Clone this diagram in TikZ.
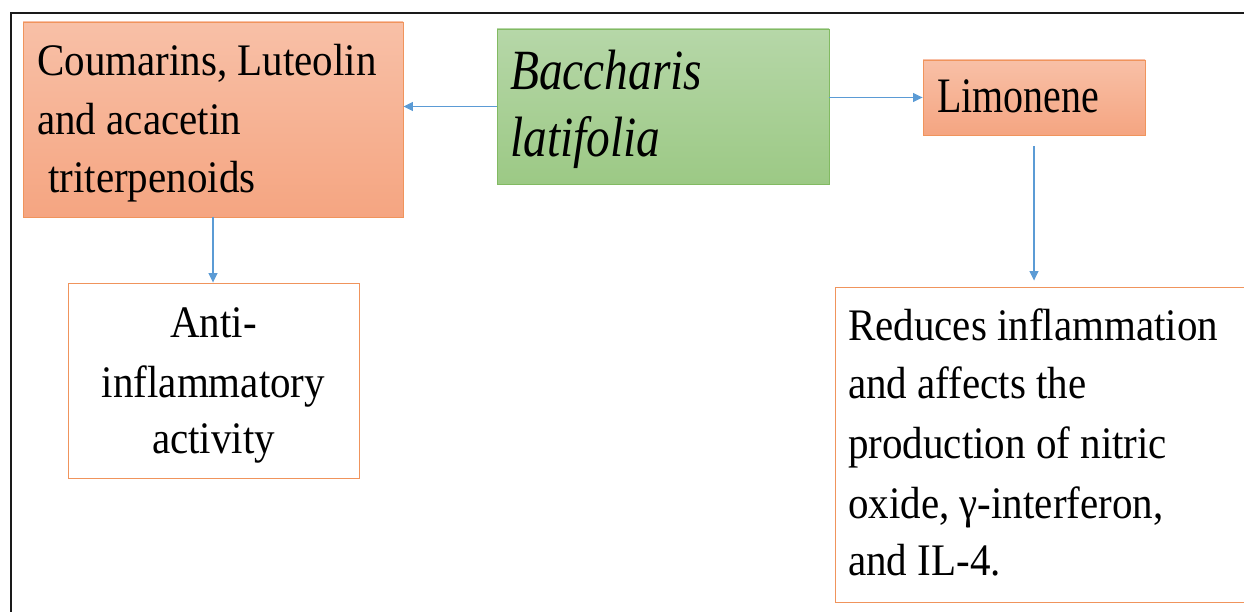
\documentclass[tikz,border=0pt]{standalone}
\usepackage{fontspec}
\setmainfont{Liberation Serif}
\usetikzlibrary{arrows.meta}

\definecolor{orTop}{HTML}{F8C0A7}
\definecolor{orBot}{HTML}{F5A581}
\definecolor{orLine}{HTML}{F0945C}
\definecolor{grTop}{HTML}{B6D7A8}
\definecolor{grBot}{HTML}{9CC985}
\definecolor{grLine}{HTML}{82BA62}
\definecolor{arrBlue}{HTML}{5B9BD5}
\definecolor{frameC}{HTML}{1A1A1A}

% slightly tall lettering
\newcommand{\tallx}[2][1.1]{\scalebox{1}[#1]{#2}}

\tikzset{
  orangebox/.style={draw=orLine, line width=0.9pt, top color=orTop, bottom color=orBot, inner sep=0pt},
  greenbox/.style={draw=grLine, line width=0.9pt, top color=grTop, bottom color=grBot, inner sep=0pt},
  plainbox/.style={draw=orLine, line width=0.9pt, fill=white, inner sep=0pt},
  txt/.style={inner sep=0pt, anchor=base west, font=\fontsize{41}{50}\selectfont},
  ctxt/.style={inner sep=0pt, anchor=base, font=\fontsize{41}{50}\selectfont},
  flow/.style={draw=arrBlue, line width=1.1pt, -{Triangle[length=9.5pt,width=9pt]}},
}

\begin{document}
\begin{tikzpicture}[x=1pt, y=-1pt]
  \useasboundingbox (0,0) rectangle (1244,612);
  \clip (0,0) rectangle (1244,612);

  % outer frame (only the top and left edges fall inside the page)
  \draw[frameC, line width=2pt] (10.5,640) -- (10.5,13.5) -- (1270,13.5);

  % boxes
  \node[orangebox, minimum width=380pt, minimum height=195pt] (comp) at (213,119.5) {};
  \node[greenbox, minimum width=332pt, minimum height=155pt] (plant) at (663,106.5) {};
  \node[orangebox, minimum width=222pt, minimum height=75pt] (lim) at (1034,97.5) {};
  \node[plainbox, minimum width=291pt, minimum height=195pt] (anti) at (213.5,380.5) {};
  \node[plainbox, minimum width=425pt, minimum height=315pt] (eff) at (1047.5,444.5) {};

  % texts
  \node[txt] (c1) at (37,76) {\tallx{Coumarins, Luteolin}};
  \node[txt] (c2) at (37,135) {\tallx{and acacetin}};
  \node[txt] (c3) at (48,193) {\tallx{triterpenoids}};

  \node[inner sep=0pt, anchor=base west] (p1) at (510,90)
    {\tallx[1.2]{\fontsize{47.4}{55}\selectfont\itshape Baccharis}};
  \node[inner sep=0pt, anchor=base west] (p2) at (510,157)
    {\tallx[1.2]{\fontsize{47.4}{55}\selectfont\itshape latifolia}};

  \node[inner sep=0pt, anchor=base west] (l1) at (937,113)
    {\tallx[1.24]{\fontsize{40}{48}\selectfont Limonene}};

  \node[ctxt] (a1) at (213.5,337) {\tallx{Anti-}};
  \node[ctxt] (a2) at (213.5,397) {\tallx{inflammatory}};
  \node[ctxt] (a3) at (213.5,453) {\tallx{activity}};

  \node[txt] (e1) at (848,340) {\tallx{Reduces inflammation}};
  \node[txt] (e2) at (848,398) {\tallx{and affects the}};
  \node[txt] (e3) at (848,458) {\tallx{production of nitric}};
  \node[txt] (e4) at (848,518) {\tallx{oxide, γ-interferon,}};
  \node[txt] (e5) at (848,575) {\tallx{and IL-4.}};

  % connectors
  \draw[flow] (plant.west) -- (plant.west -| comp.east);
  \draw[flow] (plant.east |- lim.west) -- (lim.west);
  \draw[flow] (comp.south) -- (comp.south |- anti.north);
  \draw[flow, shorten <=11pt, shorten >=6pt] (lim.south) -- (lim.south |- eff.north);
\end{tikzpicture}
\end{document}
